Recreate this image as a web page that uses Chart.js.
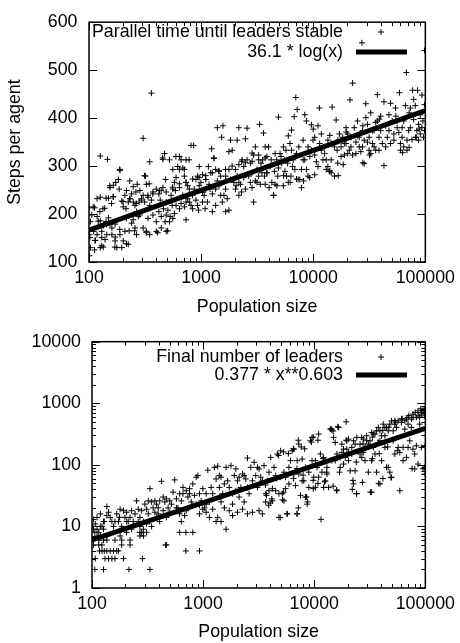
<!DOCTYPE html>
<html>
<head>
<meta charset="utf-8">
<script src="https://cdn.jsdelivr.net/npm/chart.js@4.4.1/dist/chart.umd.min.js"></script>
<style>
  html, body { margin: 0; padding: 0; background: #fff; }
  #wrap { position: relative; width: 460px; height: 643px; }
  canvas { position: absolute; left: 0; }
  #timeChart { top: 0; }
  #leaderChart { top: 320px; }
</style>
</head>
<body>
<div id="wrap">
  <canvas id="timeChart" width="460" height="320"></canvas>
  <canvas id="leaderChart" width="460" height="323"></canvas>
</div>
<script>
// axis ticks
const popTicks = [100, 1000, 10000, 100000];
const stepTicks = [100, 200, 300, 400, 500, 600];
const leaderTicks = [1, 10, 100, 1000, 10000];

// fitted curves (straight on these axes, so the two ends are enough)
const timeFitX = [100, 100000];
const timeFitY = [166.2, 415.6];
const leaderFitX = [100, 100000];
const leaderFitY = [6.03, 390];

// [population, steps per agent]
const timeSamples = [
  [100,213],[112,213],[106,198],[118,195],[126,186],[103,184],[110,164],[101,157],[118,157],[114,145],
  [103,130],[112,125],[101,113],[126,130],[130,134],[130,164],[135,176],[142,184],[149,192],[154,179],
  [160,171],[144,157],[139,147],[126,235],[133,211],[149,233],[154,255],[165,236],[165,260],[160,157],
  [171,152],[171,179],[142,233],[118,232],[126,321],[146,314],
  [173,266],[183,272],[189,291],[186,252],[196,227],[202,215],[214,211],[224,225],[216,249],[209,239],
  [232,232],[240,242],[248,225],[257,218],[265,205],[275,195],[284,198],[216,191],[209,164],[228,165],
  [240,181],[248,188],[257,171],[265,157],[224,137],[177,130],[171,144],[189,157],[202,144],[196,130],
  [269,262],[284,249],[294,232],[280,225],[262,246],[248,257],
  [304,358],[319,279],[325,262],[304,239],[336,235],[314,225],[348,218],[360,229],[372,246],[348,309],
  [360,452],[398,252],[420,242],[432,229],[441,249],[456,255],[472,326],[456,314],[482,272],[336,191],
  [325,164],[304,171],[348,157],[372,198],[398,184],[420,205],[441,195],[462,211],[478,184],[398,164],
  [441,171],[488,164],[488,225],[505,208],[488,198],
  [522,313],[540,239],[559,252],[578,266],[598,276],[618,299],[641,320],[663,313],[686,296],[709,279],
  [733,266],[759,259],[785,252],[812,343],[857,343],[840,239],[869,252],[899,272],[930,279],[962,299],
  [962,259],[899,229],[812,218],[785,225],[733,225],[709,215],[663,222],[641,211],[598,218],[578,201],
  [559,191],[530,195],[522,184],[552,218],[733,188],[840,211],[930,218],[949,208],[759,232],[686,239],
  [641,255],[590,249],[733,313],[559,293],[709,293],
  [995,266],[1030,282],[1064,239],[1100,252],[1138,225],[1177,262],[1218,286],[1242,336],[1303,316],[1348,293],
  [1395,380],[1445,289],[1494,279],[1566,384],[1524,360],[1598,239],[1655,252],[1711,232],[1770,208],[1655,205],
  [1831,354],[1895,333],[1770,330],[1895,272],[1960,266],[2028,252],[2097,354],[2170,380],[1030,225],[1086,211],
  [1260,205],[1348,218],[1445,259],[1260,242],[1395,269],[1100,272],[1161,299],[1655,279],[1770,293],[1831,272],
  [1494,239],[1545,225],[1348,252],[1201,252],[1030,245],
  [2028,293],[2097,279],[2170,266],[2245,262],[2322,313],[2402,299],[2485,357],[2570,379],[2659,279],[2750,266],
  [2845,255],[2943,225],[3045,269],[3150,293],[3260,323],[3326,387],[3418,306],[3488,286],[3608,369],[3730,340],
  [3682,279],[2570,313],[2485,252],[2291,246],[2170,239],[2055,259],[2402,276],[2750,306],[2943,323],[3045,340],
  [2845,286],[3150,266],[3372,262],[3536,313],[3730,262],[3260,279],
  [3860,286],[3993,340],[4130,299],[4270,266],[4417,239],[4570,262],[4728,313],[4890,402],[5060,326],[5234,306],
  [5415,340],[5600,289],[5793,279],[5993,363],[6200,347],[6410,375],[6631,313],[6767,403],[6860,293],[7000,443],
  [7193,418],[7340,272],[7440,340],[7097,326],[4047,255],[4215,313],[4507,289],[4825,279],[5163,320],[5526,313],
  [5912,306],[6327,279],[6541,299],[5993,266],[5415,259],[4890,296],[4570,326],[3860,320],[6410,333],[5715,333],
  [7593,272],[7855,255],[8127,313],[8410,407],[8699,394],[9000,340],[9311,320],[9630,386],[9962,354],[10307,360],
  [10663,309],[11030,384],[11330,421],[11410,347],[11805,333],[12213,313],[12630,326],[13066,313],[13518,299],[13985,289],
  [14460,313],[14757,423],[14460,347],[13518,354],[12630,340],[9630,333],[8410,313],[7855,293],[8699,293],[10307,323],
  [11030,299],[11805,367],[13066,293],[14460,286],[9000,279],[10307,282],[8127,354],
  [15480,279],[16010,396],[16340,333],[16560,306],[17130,367],[17725,340],[18336,360],[18960,323],[19620,347],[20300,367],
  [21000,333],[21285,438],[21710,360],[22460,473],[22460,323],[23240,380],[24040,350],[24860,363],[25720,340],[26610,330],
  [27530,374],[28470,305],[28470,354],[29460,430],[18960,347],[17725,320],[20300,326],[24040,326],[16560,354],[15480,340],
  [21710,340],[25720,360],[27530,340],[19620,380],[24860,394],[27200,557],
  [29460,401],[30470,387],[31520,360],[32600,411],[33730,347],[34890,374],[36100,333],[37330,449],[37330,394],[38620,360],
  [39960,404],[41340,347],[42750,434],[42750,301],[44230,384],[45760,360],[47340,407],[48950,431],[48950,347],[50640,394],
  [52400,367],[54200,421],[56050,380],[31520,333],[33730,374],[36100,391],[39960,374],[44230,340],[47340,374],[52400,354],
  [56050,394],[38620,333],[30470,350],[34890,340],[32600,326],
  [57990,370],[58780,453],[59990,347],[62060,360],[64180,394],[66400,426],[67760,495],[68690,333],[71060,374],[73490,421],
  [76030,355],[77060,458],[78650,439],[81370,426],[83030,360],[85300,458],[87060,387],[90070,367],[93180,448],[93180,380],
  [96360,360],[98330,541],[98330,428],[98330,374],[59990,333],[64180,340],[68690,354],[73490,380],[78650,397],[84150,374],
  [90070,407],[95090,394],[62060,380],[87060,354],
  [109,215],[125,205],[138,212],[159,222],[164,236],[201,226],[231,232],[264,222],[293,229],[335,239],
  [371,242],[425,249],[488,246],[557,256],[640,263],[733,266],[841,273],[960,276],[1100,280],[1257,286],
  [1440,290],[1650,293],[1890,300],[2170,303],[2480,307],[2850,310],[3260,313],[3730,317],
  [102,151],[113,145],[130,151],[134,131],[170,131],[216,138],[255,165],[324,161],[410,161],[503,165],
  [188,168],[143,178],[121,185],[188,293],[153,259],[231,269],[313,280],[345,263],[454,317],[596,320],
  [640,293],[782,313],[1300,317],[2300,310],[2850,327],
  [10000,377],[14060,364],[19700,371],[27700,384],[38900,398],[54600,404],[71700,411],[87900,377],[82000,360],
  [3860,286],[4440,239],[5430,280],[7100,273],[9300,276],[14060,290],[18500,303],[27700,307],[31800,323],[62700,328],
  [71700,339],[16700,280],[8200,269],[6230,266],[4740,259]
];

// [population, final number of leaders]
const leaderSamples = [
  [106,2],[127,2],[215,2],[332,2],
  [107,3],[131,3],[141,3],[151,3],[161,3],[192,3],[285,3],
  [117,4],[123,4],[129,4],[136,4],[146,4],[156,4],[167,4],[173,4],[700,4],[928,4],
  [103,5],[115,5],[123,5],[185,5],[220,5],[460,5],[467,5],
  [103,6],[115,6],[127,6],[136,6],[161,6],[185,6],[220,6],
  [111,7],[119,7],[136,7],[179,7],[270,7],
  [106,8],[115,8],[205,8],[270,8],[310,8],[615,8],[700,8],[808,8],
  [103,9],[127,9],[290,9],
  [103,13],[111,14],[107,11],[119,16],[127,12],[136,15],[141,17],[151,12],[161,12],[173,12],
  [179,19],[192,18],[205,17],[220,14],[227,18],[136,21],[167,16],[198,14],[235,12],[212,12],
  [123,10],[111,9],[156,10],[185,10],[227,9],[205,12],[146,14],[119,10],[129,12],[177,14],[102,10],
  [244,16],[252,26],[261,19],[270,14],[280,18],[290,12],[299,23],[310,19],[321,26],[332,41],
  [344,25],[355,20],[368,17],[381,23],[394,20],[407,26],[422,54],[437,18],[452,25],[467,28],
  [484,20],[501,26],[518,23],[536,36],[555,57],[332,12],[310,11],[270,10],[280,8],[290,7],
  [344,10],[381,14],[407,12],[467,14],[501,17],[261,12],[321,16],[437,30],[368,26],[394,16],
  [575,28],[594,20],[615,34],[637,26],[659,43],[682,15],[705,38],[730,30],[756,41],[782,25],
  [808,49],[837,32],[867,23],[897,67],[928,34],[960,26],[994,41],[1028,20],[1064,34],[1102,82],
  [1140,25],[1180,43],[1220,19],[1263,91],[1308,12],[1353,14],[1400,30],[1450,12],[615,16],[705,18],
  [808,22],[928,16],[1064,17],[1140,14],[994,19],[867,63],[756,34],[659,34],[575,20],[637,12],
  [928,22],[1220,34],[1064,23],
  [1308,59],[1353,95],[1400,43],[1450,63],[1500,34],[1553,20],[1610,91],[1664,55],[1720,43],[1781,97],
  [1840,23],[1906,67],[1972,38],[2041,55],[2110,30],[2186,43],[2262,71],[2341,25],[2420,59],[2507,129],
  [2594,34],[2685,91],[2780,55],[1610,9],[1720,18],[1840,15],[2041,17],[2262,19],[2507,16],[2780,17],
  [1450,25],[2110,63],[1840,34],[2507,43],[1400,67],[1553,49],[1972,86],[2341,67],
  [2876,110],[2977,67],[3081,43],[3190,86],[3300,63],[3416,16],[3535,97],[3660,34],[3787,55],[3919,76],
  [4056,132],[4200,41],[4346,91],[4497,67],[4654,150],[4810,34],[4985,169],[5160,34],[5340,26],[5520,63],
  [5719,16],[5918,91],[6125,117],[6330,169],[6560,71],[3190,18],[3660,25],[4200,26],[4810,14],[5520,41],
  [5918,49],[4985,63],[4497,38],[3919,38],[3416,55],[5340,76],[3081,91],
  [6560,180],[6788,46],[7025,16],[7270,217],[7524,32],[7787,124],[8058,55],[8330,30],[8630,23],[8932,76],
  [9243,246],[9560,279],[9898,63],[10244,117],[10600,91],[10960,316],[11354,150],[11750,76],[12160,132],[12580,55],
  [13020,91],[13475,43],[13945,380],[14430,117],[11511,13],[7270,71],[8330,91],[9560,117],[7787,55],[8932,43],
  [10960,63],[12160,43],[7025,117],[10244,43],[13020,71],
  [14430,366],[14935,279],[15455,117],[15995,38],[16550,405],[17130,91],[17728,159],[18347,180],[18990,132],[19650,246],
  [20340,117],[21046,80],[21780,192],[22540,49],[23330,80],[24140,34],[24980,169],[25855,217],[26757,132],[27690,159],
  [28660,192],[29656,297],[30690,76],[31763,246],[32880,36],[32880,117],[15995,150],[18347,103],[21780,150],[25855,150],
  [28660,117],[20340,159],[17130,132],[23330,217],[19650,180],[27690,262],[30690,217],
  [15455,231],[17728,217],[20340,262],[22540,246],[24140,279],[26757,279],[29656,246],[32880,336],[35210,316],[39030,357],
  [43270,405],[47950,458],[53150,519],[60970,488],[67580,552],[77520,588],[85950,625],[92040,706],[98600,773],
  [34020,316],[35210,150],[36440,76],[37720,405],[39030,246],[40390,117],[41800,458],[43270,297],[44770,91],[46340,357],
  [47950,76],[49630,519],[51350,246],[53150,150],[55000,405],[56930,192],[39030,49],[34020,192],[43270,192],[46340,91],
  [49630,63],[53150,458],[36440,357],[40390,297],[44770,405],[51350,357],[56930,519],[37720,231],
  [58910,159],[60970,552],[63090,192],[65310,519],[67580,132],[69940,588],[72380,246],[74920,552],[77520,665],[80230,150],
  [83020,588],[85950,754],[88930,588],[92040,665],[95240,773],[98600,625],[99500,204],[99500,754],[80230,86],[85950,103],
  [92040,192],[95240,86],[99500,71],[58910,38],[69940,192],[77520,180],[63090,117],[83020,204],[98600,91],[69940,458],
  [88930,458],[65310,380],[74920,405],
  [4020,24],[4940,14],[5690,16],[7000,16],[7190,20],[8540,30],[8720,25],[5180,27],[4150,28],[3720,32],
  [3890,22],[9800,41],[10800,50],[12400,53],[14800,45],[15900,39],[22000,40],[24000,34],[27200,52],[32000,36],
  [38000,50],[41500,60],[49000,62],[76000,87],[4590,60],[5300,36],[6500,60],[7950,68],[9800,56],[12900,76],
  [16900,76],[22300,56],[7000,87],[3640,47],
  [19400,500],[16300,416],[14200,386],[14800,355],[9800,282],[9450,234],[10800,251],[7190,251],[7650,195],[5300,162],
  [4780,142],[5850,152],[6500,182],[8200,182],[12000,126],[19400,251],[27500,219],[33400,282],[41500,363],[47000,410],
  [54000,490],[62000,562],[71000,631],[81000,708],[91000,813],[38500,152],[45800,195],[56000,170],[33400,126],[23900,111]
];

const fontFamily = '"Liberation Sans", Arial, sans-serif';
Chart.defaults.font.family = fontFamily;
Chart.defaults.font.size = 17.8;
Chart.defaults.color = '#000';
Chart.defaults.animation = false;

function toXY(xs, ys) {
  return xs.map((x, i) => ({ x: x, y: ys[i] }));
}

// gnuplot style frame: border plus inward ticks on all four sides
function framePlugin(yLog) {
  return {
    id: 'frame',
    afterDatasetsDraw(chart) {
      const { ctx, chartArea: a, scales: { x, y } } = chart;
      ctx.save();
      ctx.strokeStyle = '#000';
      ctx.lineWidth = 1;
      ctx.beginPath();
      for (let d = 100; d <= 100000; d *= 10) {
        for (let m = 1; m < 10; m++) {
          const v = d * m;
          if (v > 100000) break;
          const px = Math.round(x.getPixelForValue(v)) + 0.5;
          const len = m === 1 ? 8 : 4;
          ctx.moveTo(px, a.bottom); ctx.lineTo(px, a.bottom - len);
          ctx.moveTo(px, a.top); ctx.lineTo(px, a.top + len);
        }
      }
      if (yLog) {
        for (let d = 1; d <= 10000; d *= 10) {
          for (let m = 1; m < 10; m++) {
            const v = d * m;
            if (v > 10000) break;
            const py = Math.round(y.getPixelForValue(v)) + 0.5;
            const len = m === 1 ? 8 : 4;
            ctx.moveTo(a.left, py); ctx.lineTo(a.left + len, py);
            ctx.moveTo(a.right, py); ctx.lineTo(a.right - len, py);
          }
        }
      } else {
        stepTicks.forEach(v => {
          const py = Math.round(y.getPixelForValue(v)) + 0.5;
          ctx.moveTo(a.left, py); ctx.lineTo(a.left + 8, py);
          ctx.moveTo(a.right, py); ctx.lineTo(a.right - 8, py);
        });
      }
      ctx.stroke();
      ctx.lineWidth = 1.5;
      ctx.strokeRect(a.left, a.top, a.right - a.left, a.bottom - a.top);
      ctx.restore();
    }
  };
}

// key in the top right corner, text right aligned, sample to its right
function keyPlugin(pointLabel, pointY, lineLabel, lineY) {
  return {
    id: 'key',
    afterDraw(chart) {
      const ctx = chart.ctx;
      ctx.save();
      ctx.font = '17.8px ' + fontFamily;
      ctx.fillStyle = '#000';
      ctx.strokeStyle = '#000';
      ctx.textAlign = 'right';
      ctx.textBaseline = 'middle';
      ctx.fillText(pointLabel, 343, pointY);
      ctx.fillText(lineLabel, 343, lineY);
      ctx.lineWidth = 1;
      ctx.beginPath();
      ctx.moveTo(378, pointY); ctx.lineTo(384, pointY);
      ctx.moveTo(381, pointY - 3); ctx.lineTo(381, pointY + 3);
      ctx.stroke();
      ctx.lineWidth = 5;
      ctx.beginPath();
      ctx.moveTo(356, lineY); ctx.lineTo(407, lineY);
      ctx.stroke();
      ctx.restore();
    }
  };
}

function popAxis(height, titlePad) {
  return {
    type: 'logarithmic',
    min: 100,
    max: 100000,
    grid: { display: false, drawTicks: false },
    border: { display: false },
    afterBuildTicks: s => { s.ticks = popTicks.map(v => ({ value: v })); },
    afterFit: s => { s.height = height; },
    ticks: { padding: 5, autoSkip: false, maxRotation: 0, callback: v => String(v) },
    title: { display: true, text: 'Population size', padding: { top: 0, bottom: titlePad } }
  };
}

new Chart(document.getElementById('timeChart'), {
  type: 'scatter',
  data: {
    datasets: [
      {
        label: '36.1 * log(x)',
        data: toXY(timeFitX, timeFitY),
        showLine: true,
        borderColor: '#000',
        borderWidth: 5,
        pointRadius: 0,
        clip: 0
      },
      {
        label: 'Parallel time until leaders stable',
        data: timeSamples.map(p => ({ x: p[0], y: p[1] })),
        pointStyle: 'cross',
        pointRadius: 3,
        borderWidth: 1,
        borderColor: '#000'
      }
    ]
  },
  options: {
    responsive: false,
    devicePixelRatio: 1,
    layout: { padding: { top: 15, right: 32, left: 0, bottom: 0 } },
    plugins: { legend: { display: false }, tooltip: { enabled: false } },
    scales: {
      x: popAxis(58, 2.3),
      y: {
        type: 'linear',
        min: 100,
        max: 600,
        grid: { display: false, drawTicks: false },
        border: { display: false },
        afterBuildTicks: s => { s.ticks = stepTicks.map(v => ({ value: v })); },
        afterFit: s => { s.width = 89; },
        ticks: { padding: 11.5 },
        title: { display: true, text: 'Steps per agent', padding: { top: 4.3, bottom: 0 } }
      }
    }
  },
  plugins: [framePlugin(false), keyPlugin('Parallel time until leaders stable', 32, '36.1 * log(x)', 52)]
});

new Chart(document.getElementById('leaderChart'), {
  type: 'scatter',
  data: {
    datasets: [
      {
        label: '0.377 * x**0.603',
        data: toXY(leaderFitX, leaderFitY),
        showLine: true,
        borderColor: '#000',
        borderWidth: 5,
        pointRadius: 0,
        clip: 0
      },
      {
        label: 'Final number of leaders',
        data: leaderSamples.map(p => ({ x: p[0], y: p[1] })),
        pointStyle: 'cross',
        pointRadius: 3,
        borderWidth: 1,
        borderColor: '#000'
      }
    ]
  },
  options: {
    responsive: false,
    devicePixelRatio: 1,
    layout: { padding: { top: 21, right: 32, left: 0, bottom: 0 } },
    plugins: { legend: { display: false }, tooltip: { enabled: false } },
    scales: {
      x: popAxis(55, 0),
      y: {
        type: 'logarithmic',
        min: 1,
        max: 10000,
        grid: { display: false, drawTicks: false },
        border: { display: false },
        afterBuildTicks: s => { s.ticks = leaderTicks.map(v => ({ value: v })); },
        afterFit: s => { s.width = 92; },
        ticks: { padding: 11, autoSkip: false, callback: v => String(v) }
      }
    }
  },
  plugins: [framePlugin(true), keyPlugin('Final number of leaders', 37, '0.377 * x**0.603', 55)]
});
</script>
</body>
</html>
